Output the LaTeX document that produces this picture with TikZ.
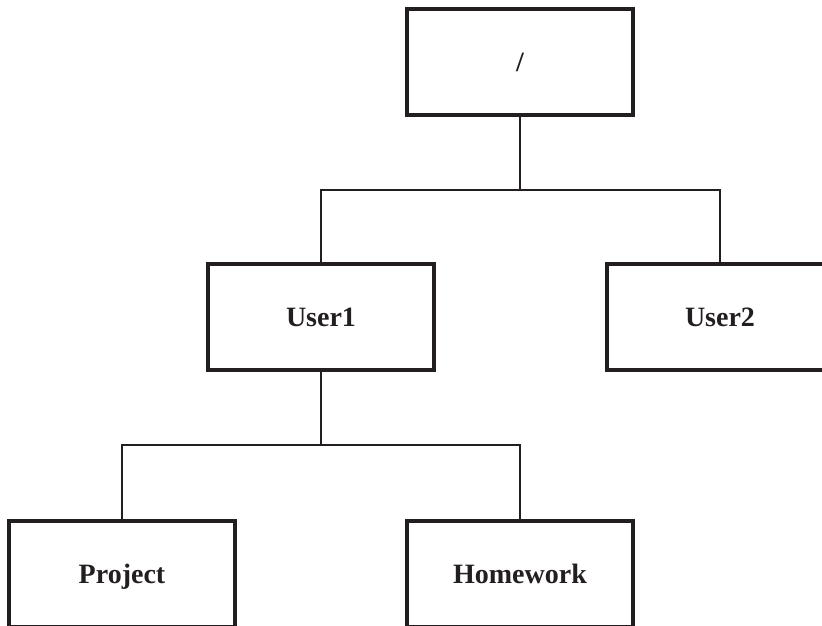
\documentclass[tikz,border=0pt]{standalone}
\usepackage{fontspec}
\setmainfont{Liberation Serif}
\definecolor{ink}{HTML}{231F20}
\begin{document}
\begin{tikzpicture}[x=1pt,y=-1pt]
      \tikzset{folder/.style={draw=ink, line width=4pt, rectangle, minimum width=226pt, minimum height=106pt, text height=21pt, text depth=3pt, text=ink, font=\fontsize{28}{30}\selectfont\bfseries}}
      \tikzset{branch/.style={draw=ink, line width=1.5pt}}
      \useasboundingbox (0,0) rectangle (822,625);
%% Folders
	%top
      	\node[folder] (root) at (520,62) {/};
	%middle
     	\node[folder] (user1) at (321,317) {User1};
     	\node[folder] (user2) at (720,317) {User2};
	%bottom
     	\node[folder] (project) at (122,574) {Project};
     	\node[folder] (homework) at (520,574) {Homework};
%% Joints
      	\coordinate (j1) at (520,190);
      	\coordinate (j2) at (321,445);
%Branches
		\path [branch] (root) -- (j1);
		\path [branch] (user1) |- (j1) -| (user2);
		\path [branch] (user1) -- (j2);
		\path [branch] (project) |- (j2) -| (homework);
\end{tikzpicture}
\end{document}
